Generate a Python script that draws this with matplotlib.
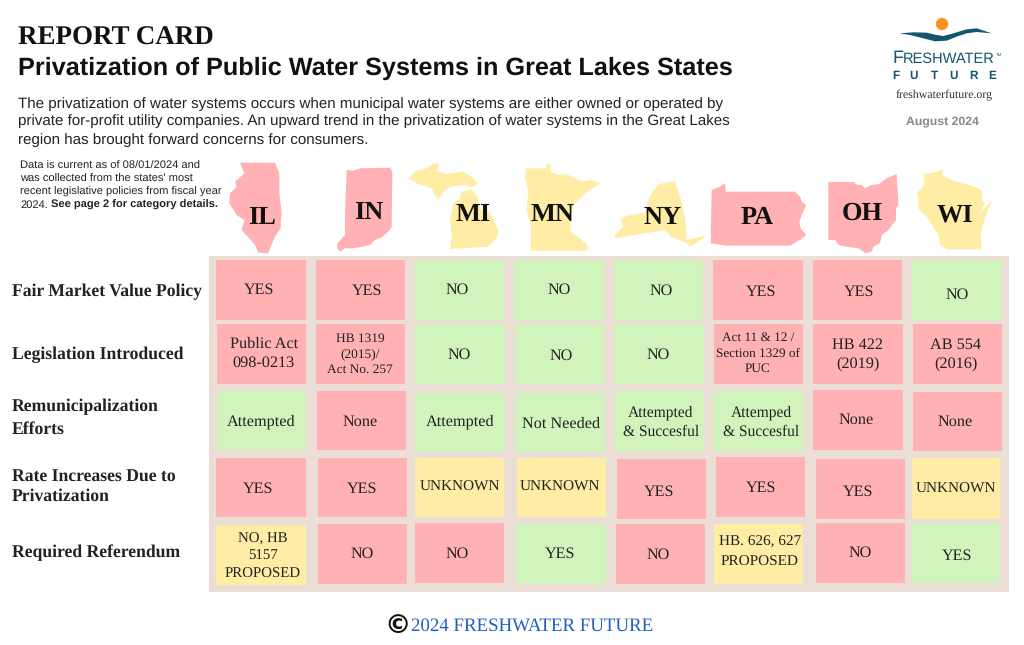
import matplotlib
matplotlib.use("Agg")
import matplotlib.pyplot as plt
from matplotlib.patches import Polygon, Rectangle, Circle

plt.rcParams["text.hinting"] = "no_hinting"
plt.rcParams["text.hinting_factor"] = 8

SERIF = "Liberation Serif"
SANS = "Liberation Sans"

# data
states = ["IL", "IN", "MI", "MN", "NY", "PA", "OH", "WI"]
state_status = ["r", "r", "y", "y", "y", "r", "r", "y"]
row_labels = ["Fair Market Value Policy", "Legislation Introduced",
              "Remunicipalization\nEfforts", "Rate Increases Due to\nPrivatization",
              "Required Referendum"]
cell_text = [
    ["YES", "YES", "NO", "NO", "NO", "YES", "YES", "NO"],
    ["Public Act\n098-0213", "HB 1319\n(2015)/\nAct No. 257", "NO", "NO", "NO",
     "Act 11 & 12 /\nSection 1329 of\nPUC", "HB 422\n(2019)", "AB 554\n(2016)"],
    ["Attempted", "None", "Attempted", "Not Needed", "Attempted\n& Succesful",
     "Attemped\n& Succesful", "None", "None"],
    ["YES", "YES", "UNKNOWN", "UNKNOWN", "YES", "YES", "YES", "UNKNOWN"],
    ["NO, HB\n5157\nPROPOSED", "NO", "NO", "YES", "NO", "HB. 626, 627\nPROPOSED", "NO", "YES"],
]
cell_status = [
    ["r", "r", "g", "g", "g", "r", "r", "g"],
    ["r", "r", "g", "g", "g", "r", "r", "r"],
    ["g", "r", "g", "g", "g", "g", "r", "r"],
    ["r", "r", "y", "y", "r", "r", "r", "y"],
    ["y", "r", "r", "g", "r", "y", "r", "g"],
]

# layout, in pixels of the 1024x645 page
colors = {"r": "#ffb1b3", "g": "#d0f4bb", "y": "#ffeca5"}
boxes = [
    [(216, 260, 306, 320), (316, 260, 405, 320), (415, 260, 504, 320), (514, 260, 604, 320),
     (614, 260, 703, 320), (713, 260, 803, 320), (813, 260, 902, 320), (912, 260, 1002, 320)],
    [(217, 324, 306, 384), (316, 324, 405, 384), (415, 324, 505, 384), (515, 324, 604, 384),
     (614, 324, 704, 384), (714, 324, 803, 384), (813, 324, 903, 384), (913, 324, 1002, 384)],
    [(217, 391, 306, 450), (317, 391, 406, 450), (415, 393, 505, 452), (515, 393, 605, 452),
     (615, 391, 704, 451), (713, 391, 803, 451), (813, 390, 903, 450), (913, 392, 1002, 451)],
    [(216, 458, 306, 517), (318, 458, 407, 517), (415, 458, 504, 517), (517, 458, 606, 517),
     (617, 459, 706, 519), (716, 457, 805, 517), (816, 459, 905, 519), (912, 458, 1000, 519)],
    [(216, 525, 306, 585), (318, 524, 407, 584), (415, 523, 504, 583), (516, 524, 606, 584),
     (616, 524, 705, 584), (714, 524, 803, 584), (816, 523, 905, 583), (912, 523, 1000, 583)],
]
text_pos = [
    [(259, 288), (367, 289), (457, 288), (559, 288), (661, 289), (761, 290), (859, 290), (957, 293)],
    [(264, 352), (360, 353), (459, 353), (561, 354), (658, 353), (758, 352), (858, 353), (956, 353)],
    [(261, 420), (360, 420), (460, 420), (561, 422), (661, 421), (761, 421), (856, 418), (955, 420)],
    [(258, 487), (362, 487), (460, 486), (560, 486), (659, 490), (761, 486), (858, 490), (956, 488)],
    [(263, 555), (362, 552), (457, 552), (560, 552), (658, 553), (760, 551), (860, 551), (957, 554)],
]
text_size = [
    [11.6] * 8,
    [11.7, 9.6, 11.6, 11.6, 11.6, 9.5, 11.7, 11.7],
    [11.7, 11.7, 11.7, 11.7, 11.2, 11.2, 11.7, 11.7],
    [11.6, 11.6, 11, 11, 11.6, 11.6, 11.6, 11],
    [10.7, 11.6, 11.6, 11.6, 11.6, 11, 11.6, 11.6],
]
spacing_override = {(4, 5): 1.65}
label_y = [291.5, 354.5, 418, 487, 552.5]
label_spacing = [1.25, 1.25, 1.55, 1.15, 1.25]
state_label_pos = [(262, 218), (369, 213), (473, 215), (553, 215),
                   (663, 218), (757, 218), (862, 213), (955, 215)]

ORIG_L = (0, 150)
ORIG_R = (510, 150)
outlines = {
    "IL": (ORIG_L, [[(720, 38), (825, 38), (838, 70), (838, 130), (845, 190), (842, 215), (842, 235),
                     (825, 260), (812, 290), (805, 310), (775, 308), (765, 285), (745, 262), (725, 240),
                     (733, 210), (710, 195), (688, 160), (690, 130), (710, 110), (705, 95), (733, 70)]]),
    "IN": (ORIG_L, [[(1040, 60), (1060, 62), (1080, 55), (1170, 53), (1177, 65), (1175, 230), (1170, 240),
                     (1145, 262), (1125, 270), (1110, 285), (1085, 290), (1060, 295), (1035, 295), (1020, 305),
                     (1012, 295), (1012, 280), (1035, 255), (1035, 190)]]),
    "MI": (ORIG_L, [[(1225, 85), (1250, 62), (1280, 55), (1300, 40), (1318, 42), (1310, 62), (1335, 72),
                     (1390, 65), (1420, 85), (1435, 100), (1415, 112), (1390, 105), (1350, 110), (1330, 125),
                     (1315, 150), (1305, 135), (1295, 115), (1250, 100)],
                    [(1385, 125), (1415, 118), (1432, 140), (1440, 175), (1455, 190), (1470, 185), (1495, 240),
                     (1490, 265), (1465, 290), (1350, 297), (1355, 260), (1350, 205), (1360, 160), (1380, 145)]]),
    "MN": (ORIG_R, [[(48, 55), (108, 55), (110, 42), (120, 42), (125, 68), (150, 75), (170, 72), (190, 82),
                     (215, 95), (240, 90), (275, 100), (240, 118), (195, 160), (180, 200), (182, 245), (210, 265),
                     (232, 285), (232, 302), (62, 302), (62, 225), (50, 180), (55, 120), (45, 85)]]),
    "NY": (ORIG_R, [[(315, 265), (315, 255), (340, 230), (330, 208), (350, 198), (405, 188), (415, 150),
                     (428, 125), (445, 103), (495, 92), (505, 125), (515, 155), (522, 190), (528, 225),
                     (530, 270), (590, 256), (570, 272), (540, 290), (528, 278), (480, 258), (465, 240)]]),
    "PA": (ORIG_R, [[(605, 120), (630, 110), (645, 100), (647, 125), (855, 125), (870, 140), (875, 155),
                     (888, 165), (878, 190), (868, 215), (872, 235), (888, 255), (870, 270), (840, 287),
                     (650, 287), (602, 280)]]),
    "OH": (ORIG_R, [[(955, 96), (1030, 96), (1040, 104), (1055, 105), (1065, 115), (1085, 105), (1105, 103),
                     (1130, 85), (1160, 72), (1165, 165), (1158, 175), (1158, 210), (1135, 240), (1115, 255),
                     (1110, 280), (1090, 290), (1085, 305), (1068, 310), (1045, 295), (1020, 292), (985, 285),
                     (975, 270), (955, 270)]]),
    "WI": (ORIG_R, [[(1243, 72), (1265, 70), (1300, 58), (1295, 75), (1325, 90), (1380, 105), (1405, 115),
                     (1417, 125), (1415, 150), (1425, 160), (1410, 190), (1447, 150), (1430, 190), (1415, 235),
                     (1412, 260), (1415, 298), (1310, 298), (1290, 285), (1285, 255), (1250, 200), (1225, 178),
                     (1225, 150), (1220, 130), (1240, 110)]]),
}
wave = [(118, 100), (160, 97), (200, 98), (230, 105), (250, 108), (280, 100), (320, 88), (350, 85), (395, 100),
        (350, 96), (320, 100), (290, 110), (260, 122), (225, 124), (190, 115), (150, 105)]

fig = plt.figure(figsize=(10.24, 6.45), dpi=100)
ax = fig.add_axes([0, 0, 1, 1])
ax.set_xlim(0, 1024)
ax.set_ylim(645, 0)
ax.axis("off")

# header
ax.text(18, 38, "REPORT CARD", family=SERIF, fontsize=19.45, fontweight="bold", color="#111111", va="center")
ax.text(18, 68, "Privatization of Public Water Systems in Great Lakes States", family=SANS,
        fontsize=18.2, fontweight="bold", color="#111111", va="center")
intro = ["The privatization of water systems occurs when municipal water systems are either owned or operated by",
         "private for-profit utility companies. An upward trend in the privatization of water systems in the Great Lakes",
         "region has brought forward concerns for consumers."]
for y, line in zip([104, 121, 140], intro):
    ax.text(18, y, line, family=SANS, fontsize=10.9, color="#222222", va="center")
note = ["Data is current as of 08/01/2024 and", "was collected from the states' most",
        "recent legislative policies from fiscal year"]
for y, line in zip([166, 179, 192], note):
    ax.text(20, y, line, family=SANS, fontsize=8, color="#222222", va="center")
ax.text(20, 205, "2024.", family=SANS, fontsize=8, color="#222222", va="center")
ax.text(51, 205, "See page 2 for category details.", family=SANS, fontsize=8, fontweight="bold",
        color="#222222", va="center")

# logo block
ax.add_patch(Circle((942, 24), 6.2, color="#f7941d", lw=0))
ax.add_patch(Polygon([(860 + x / 3, y / 3) for x, y in wave], closed=True, color="#125670", lw=0))
ax.text(893, 58, "F", family=SANS, fontsize=13, color="#125670", va="center")
ax.text(903, 59, "RESHWATER", family=SANS, fontsize=10.5, color="#125670", va="center")
ax.text(999, 55, "TM", family=SANS, fontsize=3.2, color="#125670", va="center", ha="center")
for x, ch in zip([896, 914, 934, 954, 973, 992], "FUTURE"):
    ax.text(x, 76, ch, family=SANS, fontsize=8.5, fontweight="bold", color="#125670", va="center", ha="center")
ax.text(944, 95, "freshwaterfuture.org", family=SERIF, fontsize=8.6, color="#333333", va="center", ha="center")
ax.text(942, 121, "August 2024", family=SANS, fontsize=8.8, fontweight="bold", color="#888888", va="center", ha="center")

# state shapes and labels
for state, status, (lx, ly) in zip(states, state_status, state_label_pos):
    (ox, oy), parts = outlines[state]
    for part in parts:
        pts = [(ox + x / 3, oy + y / 3) for x, y in part]
        ax.add_patch(Polygon(pts, closed=True, color=colors[status], lw=0))
    ax.text(lx, ly, state, family=SERIF, fontsize=19, fontweight="bold", color="#111111", ha="center", va="center")

# grid of cells
ax.add_patch(Rectangle((209, 256), 800, 336, color="#eaded7", lw=0))
for r in range(len(row_labels)):
    for c in range(len(states)):
        x0, y0, x1, y1 = boxes[r][c]
        ax.add_patch(Rectangle((x0, y0), x1 - x0, y1 - y0, color=colors[cell_status[r][c]], lw=0))
        tx, ty = text_pos[r][c]
        ax.text(tx, ty + 1.5, cell_text[r][c], family=SERIF, fontsize=text_size[r][c], color="#222222",
                ha="center", va="center", linespacing=spacing_override.get((r, c), 1.4))

for label, y, sp in zip(row_labels, label_y, label_spacing):
    ax.text(12, y, label, family=SERIF, fontsize=12.7, fontweight="bold", color="#222222",
            va="center", linespacing=sp)

# footer
ax.text(397.5, 626, "\u00a9", family="DejaVu Sans", fontsize=19, fontweight="bold", color="#111111", ha="center", va="center")
ax.text(411, 626, "2024 FRESHWATER FUTURE", family=SERIF, fontsize=13.55, color="#1f5fbf", va="center")

fig.savefig("out.png", dpi=100)
